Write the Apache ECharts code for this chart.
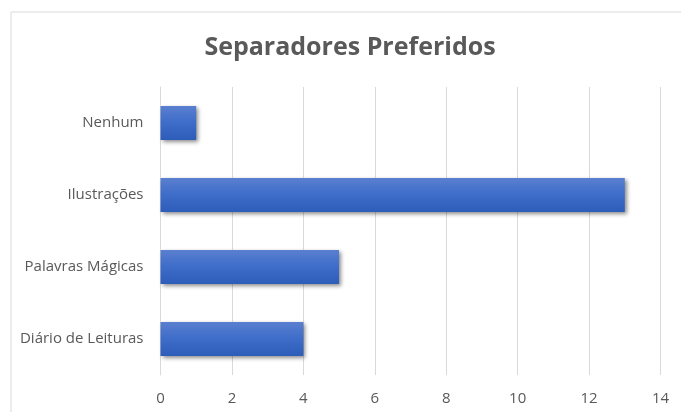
<!DOCTYPE html>
<html>
<head>
<meta charset="utf-8">
<script src="https://cdn.jsdelivr.net/npm/echarts@6/dist/echarts.min.js"></script>
<style>
  html, body { margin: 0; padding: 0; background: #fff; }
  #chart { width: 681px; height: 412px; }
</style>
</head>
<body>
<div id="chart"></div>
<script>
// Categories listed bottom to top, as the category axis draws them
const categories = ['Diário de Leituras', 'Palavras Mágicas', 'Ilustrações', 'Nenhum'];
const votes = [4, 5, 13, 1];
const xTicks = { min: 0, max: 14, interval: 2 };
const chartTitle = 'Separadores Preferidos';

const FONT = 'Open Sans, Lato, sans-serif';
const chart = echarts.init(document.getElementById('chart'));

chart.setOption({
  backgroundColor: '#ffffff',
  animation: false,
  graphic: [{
    type: 'rect',
    shape: { x: 11, y: 12, width: 720, height: 450 },
    style: { fill: 'none', stroke: '#d9d9d9', lineWidth: 1 },
    z: -1
  }, {
    type: 'text',
    x: 350,
    y: 48,
    style: {
      text: chartTitle,
      align: 'center',
      verticalAlign: 'middle',
      fontFamily: FONT,
      fontSize: 25,
      fontWeight: 'bold',
      fill: '#595959'
    }
  }],
  grid: { left: 160.5, right: 20.5, top: 87, bottom: 37, containLabel: false },
  xAxis: {
    type: 'value',
    min: xTicks.min,
    max: xTicks.max,
    interval: xTicks.interval,
    axisLine: { show: false },
    axisTick: { show: false },
    axisLabel: { fontFamily: FONT, fontSize: 15, color: '#595959', margin: 16 },
    splitLine: { show: true, lineStyle: { color: '#d9d9d9', width: 1 } }
  },
  yAxis: {
    type: 'category',
    data: categories,
    axisLine: { show: true, lineStyle: { color: '#d9d9d9' } },
    axisTick: { show: false },
    axisLabel: { fontFamily: FONT, fontSize: 15, color: '#595959', margin: 17 }
  },
  series: [{
    type: 'bar',
    data: votes,
    barWidth: '47%',
    itemStyle: {
      color: new echarts.graphic.LinearGradient(0, 0, 0, 1, [
        { offset: 0, color: '#5a7fcf' },
        { offset: 0.5, color: '#3d6cc9' },
        { offset: 1, color: '#2d5db8' }
      ]),
      shadowColor: 'rgba(0,0,0,0.45)',
      shadowBlur: 4,
      shadowOffsetX: 2,
      shadowOffsetY: 2
    }
  }]
});
</script>
</body>
</html>
